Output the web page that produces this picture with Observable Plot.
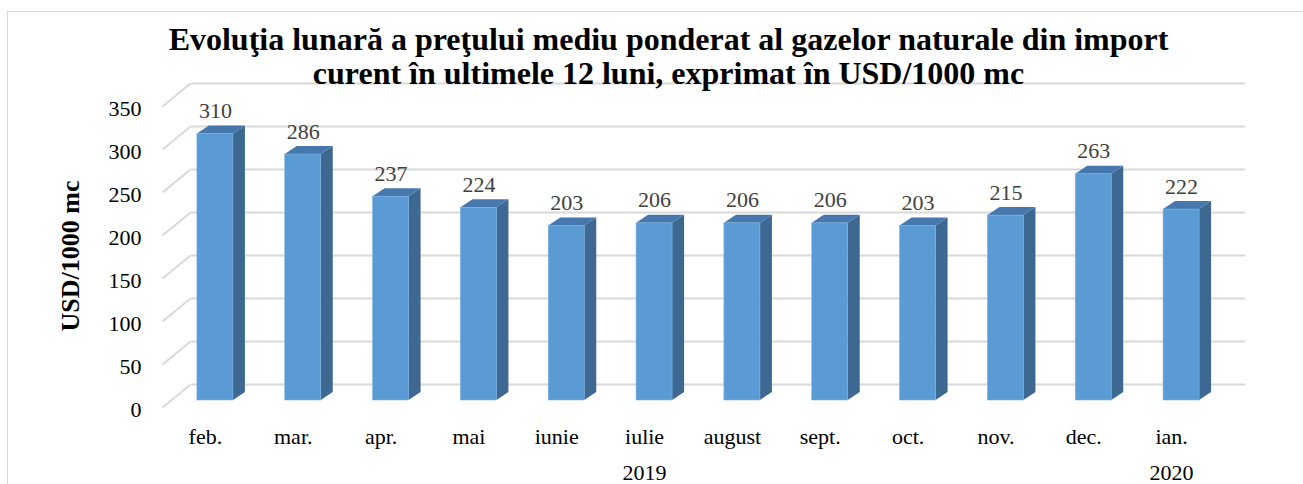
<!DOCTYPE html>
<html>
<head>
<meta charset="utf-8">
<script src="https://cdn.jsdelivr.net/npm/d3@7"></script>
<script src="https://cdn.jsdelivr.net/npm/@observablehq/plot@0.6"></script>
<style>
  html, body { margin: 0; padding: 0; background: #fff; overflow: hidden; }
  #wrap { position: relative; width: 1303px; height: 484px; }
  #border { position: absolute; left: 7px; top: 11px; width: 1400px; height: 600px; border: 1px solid #d9d9d9; box-sizing: border-box; }
  #chart { position: absolute; left: 0; top: 0; }
  #chart svg text { font-family: "Liberation Serif", "Times New Roman", serif; }
</style>
</head>
<body>
<div id="wrap"><div id="border"></div><div id="chart"></div></div>
<script>
const months = ["feb.", "mar.", "apr.", "mai", "iunie", "iulie", "august", "sept.", "oct.", "nov.", "dec.", "ian."];
const values = [310, 286, 237, 224, 203, 206, 206, 206, 203, 215, 263, 222];
const yTicks = [0, 50, 100, 150, 200, 250, 300, 350];
const years = [{label: "2019", from: 0, to: 10}, {label: "2020", from: 11, to: 11}];
const titleLines = ["Evoluţia lunară a preţului mediu ponderat al gazelor naturale din import", "curent în ultimele 12 luni, exprimat în USD/1000 mc"];
const yTitle = "USD/1000 mc";

const W = 1303, H = 484;
const mL = 171, mR = 78, mT = 99, mB = 84;
const pxX = (W - mL - mR) / 12;      // px per x unit
const pxY = (H - mT - mB) / 350;     // px per y unit
const halfW = 18 / pxX, dX = 12 / pxX, dY = 8 / pxY;
const font = "Liberation Serif";

const bars = values.map((v, i) => ({i, v, m: months[i]}));
const sideFaces = bars.flatMap(d => [
  {i: d.i, x: d.i + halfW, y1: 0, y2: d.v},
  {i: d.i, x: d.i + halfW + dX, y1: dY, y2: d.v + dY}
]);
const topFaces = bars.flatMap(d => [
  {i: d.i, y: d.v, x1: d.i - halfW, x2: d.i + halfW},
  {i: d.i, y: d.v + dY, x1: d.i - halfW + dX, x2: d.i + halfW + dX}
]);

const chart = Plot.plot({
  width: W, height: H,
  marginLeft: mL, marginRight: mR, marginTop: mT, marginBottom: mB,
  style: {fontFamily: font, background: "transparent", overflow: "visible"},
  x: {type: "linear", domain: [-0.5, 11.5], axis: null},
  y: {domain: [0, 350], axis: null},
  marks: [
    Plot.ruleY(yTicks, {dx: 20, dy: -16, stroke: "#d9d9d9", strokeWidth: 2}),
    Plot.link(yTicks, {x1: -0.5 - 9 / pxX, x2: -0.5 + 19 / pxX, y1: d => d - 7 / pxY, y2: d => d + 16 / pxY, stroke: "#d9d9d9", strokeWidth: 2}),
    Plot.areaY(sideFaces, {x: "x", y1: "y1", y2: "y2", z: "i", fill: "#3c6891"}),
    Plot.areaX(topFaces, {y: "y", x1: "x1", x2: "x2", z: "i", fill: "#4678ad"}),
    Plot.rect(bars, {x1: d => d.i - halfW, x2: d => d.i + halfW, y1: 0, y2: "v", fill: "#5b9bd5", stroke: "#7aaee0", strokeWidth: 0.6}),
    Plot.text(bars, {x: "i", y: "v", text: d => String(d.v), dy: -23, fontSize: 22, fontFamily: font, fill: "#404040"}),
    Plot.text(yTicks, {y: d => d, frameAnchor: "left", textAnchor: "end", lineAnchor: "middle", dx: -30, dy: 9, fontSize: 22, fontFamily: font, fill: "#000"}),
    Plot.text(bars, {x: "i", text: "m", frameAnchor: "bottom", lineAnchor: "middle", dx: -10, dy: 36, fontSize: 22, fontFamily: font, fill: "#000"}),
    Plot.text(years, {x: d => (d.from + d.to) / 2, text: "label", frameAnchor: "bottom", lineAnchor: "middle", dx: -10, dy: 72, fontSize: 22, fontFamily: font, fill: "#000"}),
    Plot.text([yTitle], {frameAnchor: "left", textAnchor: "middle", lineAnchor: "middle", rotate: -90, dx: -101, dy: 6, fontSize: 26, fontFamily: font, fontWeight: "bold", fill: "#000"}),
    Plot.text([titleLines[0]], {frameAnchor: "top", lineAnchor: "middle", dx: -30, dy: -60, fontSize: 32, fontFamily: font, fontWeight: "bold", fill: "#000"}),
    Plot.text([titleLines[1]], {frameAnchor: "top", lineAnchor: "middle", dx: -30, dy: -26, fontSize: 32, fontFamily: font, fontWeight: "bold", fill: "#000"})
  ]
});
document.getElementById("chart").appendChild(chart);
</script>
</body>
</html>
